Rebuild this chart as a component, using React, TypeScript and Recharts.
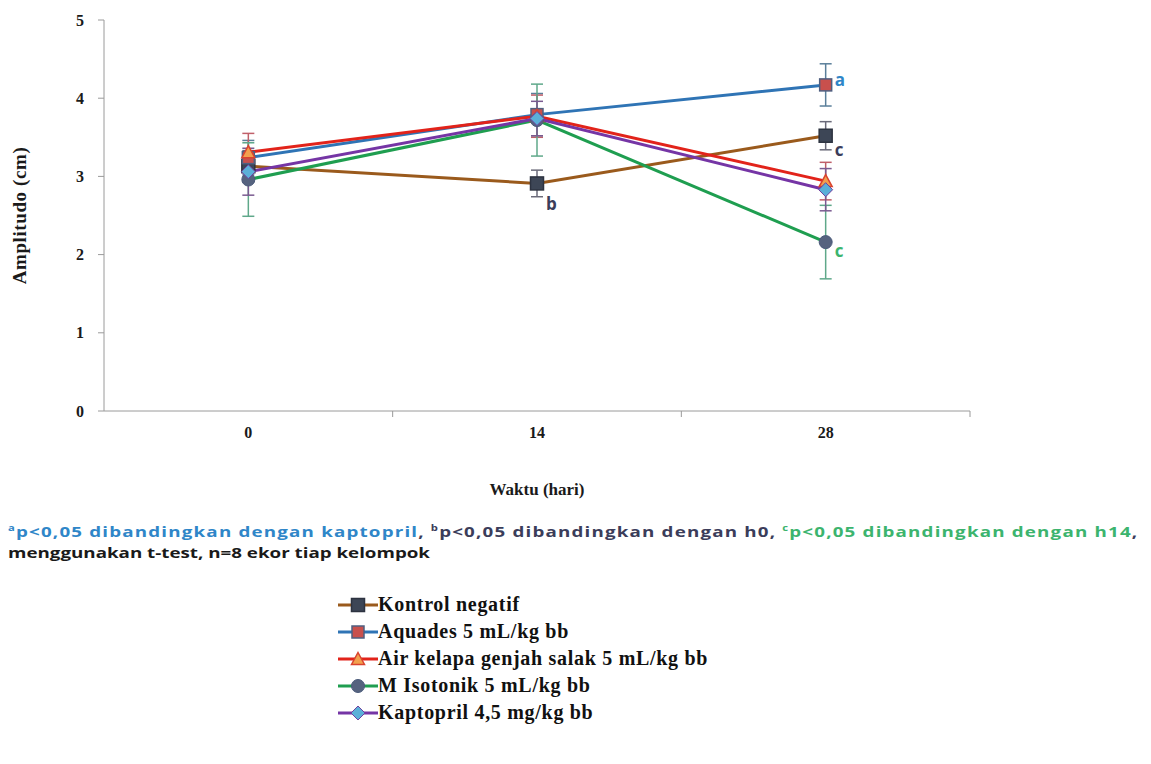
import { ErrorBar, LabelList, Legend, Line, LineChart, XAxis, YAxis } from "recharts";

// hari pengukuran
const days = [0, 14, 28];
const dayTicks = [0, 7, 14, 21, 28, 35];
const yTicks = [0, 1, 2, 3, 4, 5];

// amplitudo (cm), rata-rata dan SD
const kontrol = [3.13, 2.91, 3.52];
const kontrolErr = [0.2, 0.17, 0.18];
const kontrolSig = ["", "b", "c"];

const aquades = [3.24, 3.79, 4.17];
const aquadesErr = [0.22, 0.27, 0.27];
const aquadesSig = ["", "", "a"];

const airKelapa = [3.31, 3.77, 2.94];
const airKelapaErr = [0.24, 0.27, 0.24];
const airKelapaSig = ["", "", ""];

const isotonik = [2.96, 3.72, 2.16];
const isotonikErr = [0.47, 0.46, 0.47];
const isotonikSig = ["", "", "c"];

const kaptopril = [3.06, 3.74, 2.83];
const kaptoprilErr = [0.3, 0.22, 0.27];
const kaptoprilSig = ["", "", ""];

const series = [
  { key: "kontrol", name: "Kontrol negatif", values: kontrol, err: kontrolErr, sig: kontrolSig,
    line: "#9a5a1c", shape: "square", fill: "#3d4656", edge: "#2d3340", size: 13, errColor: "#6b6b7a", sigColor: "#3b3d5a", sigDy: [0, 27, 20] },
  { key: "aquades", name: "Aquades 5 mL/kg bb", values: aquades, err: aquadesErr, sig: aquadesSig,
    line: "#2f74b5", shape: "square", fill: "#c8504d", edge: "#4f5f80", size: 12, errColor: "#5a7f9a", sigColor: "#2f86c8", sigDy: [0, 0, 1] },
  { key: "airKelapa", name: "Air kelapa genjah salak 5 mL/kg bb", values: airKelapa, err: airKelapaErr, sig: airKelapaSig,
    line: "#e2231a", shape: "triangle", fill: "#f2a04e", edge: "#d9432f", size: 11, errColor: "#c0606a", sigColor: "#e2231a", sigDy: [0, 0, 0] },
  { key: "isotonik", name: "M Isotonik 5 mL/kg bb", values: isotonik, err: isotonikErr, sig: isotonikSig,
    line: "#1f9e50", shape: "circle", fill: "#56637f", edge: "#4a5a7a", size: 13, errColor: "#5fa88a", sigColor: "#3cb46e", sigDy: [0, 0, 15] },
  { key: "kaptopril", name: "Kaptopril 4,5 mg/kg bb", values: kaptopril, err: kaptoprilErr, sig: kaptoprilSig,
    line: "#7535a5", shape: "diamond", fill: "#5bb0d8", edge: "#7040a0", size: 12, errColor: "#7a5a90", sigColor: "#7535a5", sigDy: [0, 0, 0] },
];

const rows = days.map((d, i) => {
  const r: any = { day: d };
  series.forEach((s) => {
    r[s.key] = s.values[i];
    r[s.key + "Err"] = s.err[i];
    r[s.key + "Sig"] = s.sig[i];
  });
  return r;
});

const serif = '"Liberation Serif", "Times New Roman", serif';
const sans = '"Open Sans", "Noto Sans", sans-serif';

const Marker = ({ cx, cy, s }: any) => {
  const h = s.size / 2;
  if (s.shape === "square")
    return <rect x={cx - h} y={cy - h} width={s.size} height={s.size} fill={s.fill} stroke={s.edge} strokeWidth={1.5} />;
  if (s.shape === "triangle")
    return <polygon points={`${cx},${cy - h - 1} ${cx + h + 1},${cy + h} ${cx - h - 1},${cy + h}`} fill={s.fill} stroke={s.edge} strokeWidth={1.5} />;
  if (s.shape === "diamond")
    return <polygon points={`${cx},${cy - h - 1} ${cx + h + 1},${cy} ${cx},${cy + h + 1} ${cx - h - 1},${cy}`} fill={s.fill} stroke={s.edge} strokeWidth={1} />;
  return <circle cx={cx} cy={cy} r={h} fill={s.fill} stroke={s.edge} strokeWidth={1} />;
};

const DayTick = (props: any) => {
  const { x, y, payload } = props;
  if (days.includes(payload.value))
    return (
      <text x={x} y={y + 27} textAnchor="middle" fontFamily={serif} fontWeight={700} fontSize={16} fill="#1a1a1a">
        {payload.value}
      </text>
    );
  return <line x1={x} y1={y} x2={x} y2={y + 6} stroke="#9a9a9a" />;
};

// keep the legend in the series order, not sorted by name
const renderLegend = (props: any) => (
  <div style={{ fontFamily: serif, fontWeight: 700, fontSize: 20, color: "#111" }}>
    {series
      .filter((s) => props.payload.some((p: any) => p.dataKey === s.key))
      .map((s) => (
        <div key={s.key} style={{ display: "flex", alignItems: "center", height: 27 }}>
          <svg width={40} height={20} style={{ marginRight: 0 }}>
            <line x1={0} y1={10} x2={40} y2={10} stroke={s.line} strokeWidth={3} />
            <Marker cx={20} cy={10} s={s} />
          </svg>
          <span style={{ letterSpacing: 0.7 }}>{s.name}</span>
        </div>
      ))}
  </div>
);

export default function App() {
  return (
    <div style={{ position: "relative", width: 1135, height: 740 }}>
      <LineChart width={1135} height={740} data={rows} margin={{ top: 12, right: 173, left: 0, bottom: 253 }}>
        <XAxis
          dataKey="day"
          type="number"
          domain={[-7, 35]}
          ticks={dayTicks}
          interval={0}
          tickLine={false}
          tickSize={0}
          tickMargin={0}
          tick={<DayTick />}
          height={84}
          axisLine={{ stroke: "#9a9a9a" }}
          label={{ value: "Waktu  (hari)", position: "insideBottom", offset: 0, fontFamily: serif, fontWeight: 700, fontSize: 17, fill: "#1a1a1a" }}
        />
        <YAxis
          domain={[0, 5]}
          ticks={yTicks}
          width={96}
          tickSize={6}
          tickMargin={14}
          axisLine={{ stroke: "#9a9a9a" }}
          tickLine={{ stroke: "#9a9a9a" }}
          tick={{ fontFamily: serif, fontWeight: 700, fontSize: 16, fill: "#1a1a1a" }}
          label={{ value: "Amplitudo  (cm)", angle: -90, position: "insideLeft", offset: 11, style: { textAnchor: "middle", letterSpacing: 0.6 }, fontFamily: serif, fontWeight: 700, fontSize: 19, fill: "#1a1a1a" }}
        />
        {series.map((s) => (
          <Line
            key={s.key}
            dataKey={s.key}
            name={s.name}
            stroke={s.line}
            strokeWidth={3}
            type="linear"
            isAnimationActive={false}
            dot={(p: any) => <Marker key={`${s.key}-${p.index}`} cx={p.cx} cy={p.cy} s={s} />}
            activeDot={false}
          >
            <ErrorBar dataKey={s.key + "Err"} direction="y" width={6} strokeWidth={1.5} stroke={s.errColor} />
            <LabelList
              dataKey={s.key + "Sig"}
              content={(p: any) =>
                p.value ? (
                  <text x={p.x + 9} y={p.y + s.sigDy[p.index]} fontFamily={sans} fontWeight={700} fontSize={17} fill={s.sigColor}>
                    {p.value}
                  </text>
                ) : null
              }
            />
          </Line>
        ))}
        <Legend layout="vertical" align="center" verticalAlign="middle" content={renderLegend} wrapperStyle={{ left: 330, top: 583, width: 500 }} />
      </LineChart>
      <div
        style={{
          position: "absolute", left: 0, top: 509, fontFamily: sans, fontWeight: 700, fontSize: 15,
          lineHeight: "21px", whiteSpace: "nowrap", transform: "scaleX(1.25)", transformOrigin: "left top",
        }}
      >
        <div style={{ letterSpacing: 0.95 }}>
          <span style={{ color: "#2f86c8" }}><sup style={{ fontSize: 9 }}>a</sup>p&lt;0,05 dibandingkan dengan kaptopril</span>
          <span style={{ color: "#3b3d5a" }}>, <sup style={{ fontSize: 9 }}>b</sup>p&lt;0,05 dibandingkan dengan h0, </span>
          <span style={{ color: "#3cb46e" }}><sup style={{ fontSize: 9 }}>c</sup>p&lt;0,05 dibandingkan dengan h14</span>
          <span style={{ color: "#3b3d5a" }}>,</span>
        </div>
        <div style={{ color: "#1a1a1a" }}>menggunakan t-test, n=8 ekor tiap kelompok</div>
      </div>
    </div>
  );
}
